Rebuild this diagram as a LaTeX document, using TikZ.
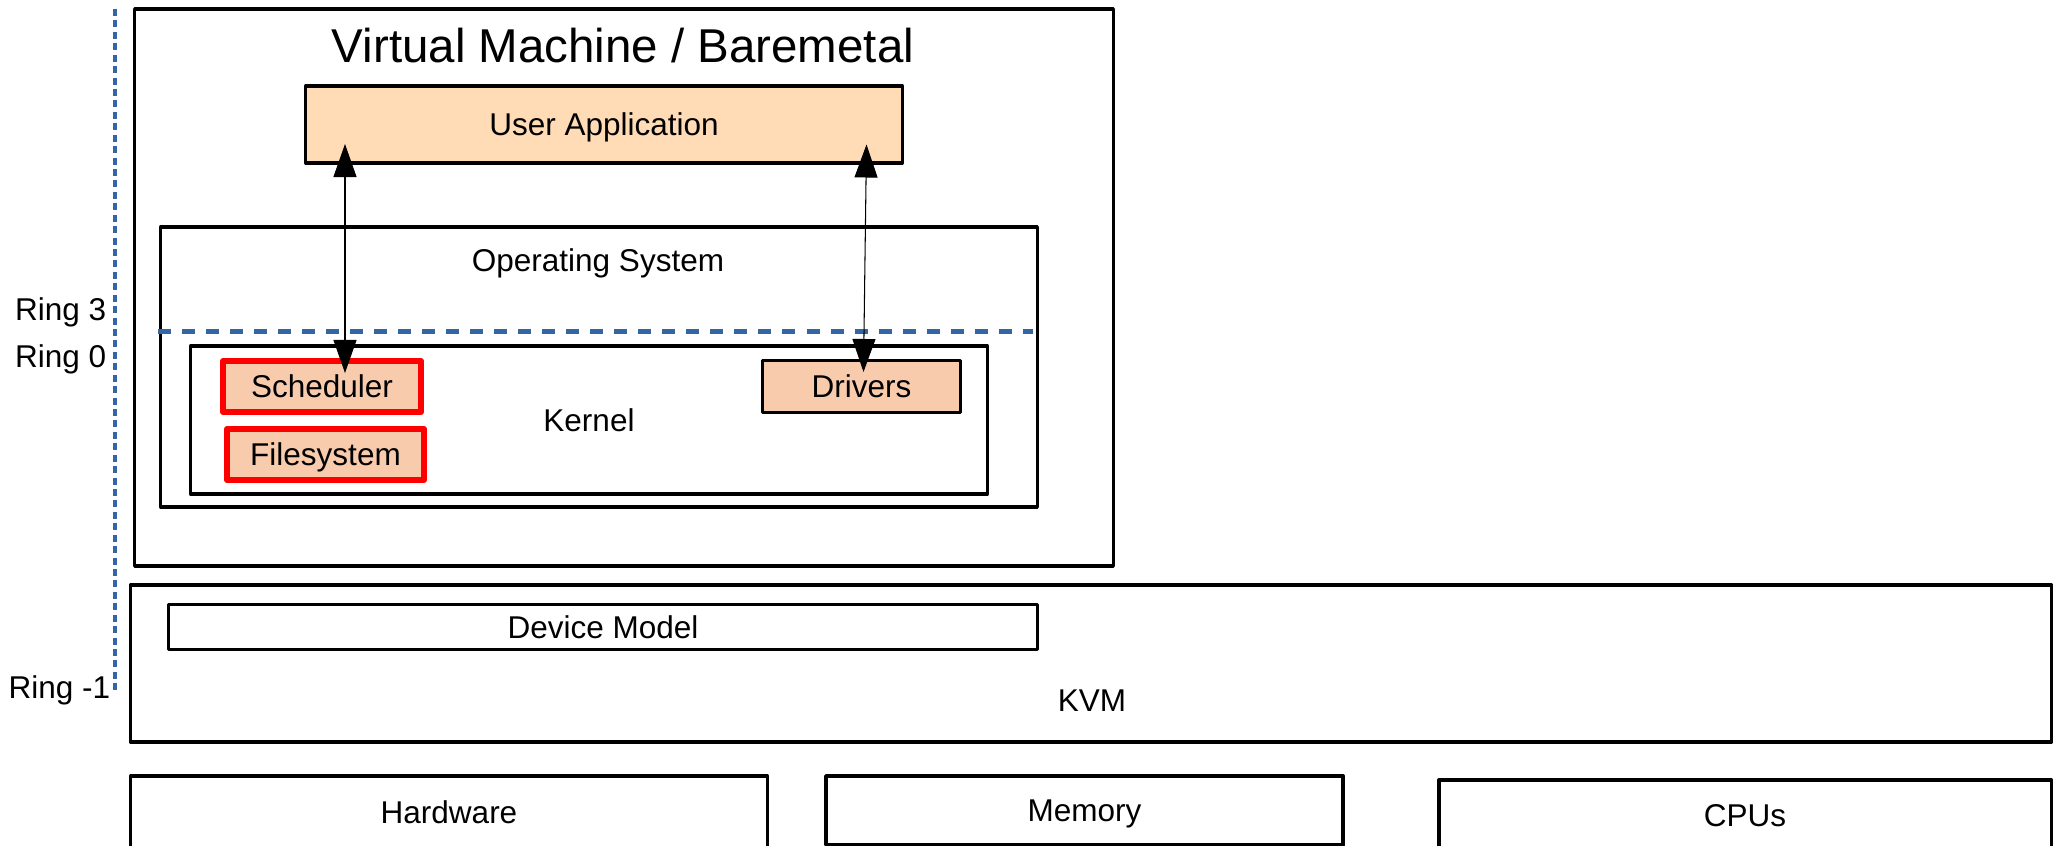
\documentclass[tikz,border=0pt]{standalone}
\usepackage{fontspec}
\setmainfont{Liberation Sans}
\usetikzlibrary{arrows.meta}
\definecolor{ringblue}{HTML}{3465A4}
\definecolor{appfill}{HTML}{FFDBB6}
\definecolor{partfill}{HTML}{F8CBAD}
\definecolor{hotred}{HTML}{FF0000}
\begin{document}
\begin{tikzpicture}[x=0.01cm, y=-0.01cm,
  txt/.style={font=\fontsize{8.96}{10}\selectfont, text height=6.42pt, text depth=0pt, inner sep=0pt},
  frame/.style={draw=black, line width=0.95pt, line join=round, inner sep=0pt, outer sep=0pt, txt},
  part/.style={frame, fill=partfill},
  hot/.style={part, draw=hotred, line width=1.7pt},
  ringline/.style={draw=ringblue, line width=1.42pt, dash pattern=on 3.7pt off 3.13pt},
  ringaxis/.style={draw=ringblue, line width=0.95pt, dash pattern=on 2pt off 1.25pt},
  biarrow/.style={line width=0.3pt, {Triangle[length=0.33cm,width=0.23cm]}-{Triangle[length=0.33cm,width=0.23cm]}},
  ringlbl/.style={txt, anchor=east}]
\clip (0,0) rectangle (2053,846);
\fill[white] (0,0) rectangle (2053,846);

% guest side
\node[frame, minimum width=9.78cm, minimum height=5.57cm] (vm) at (624,287.5) {};
\node[txt, font=\fontsize{13.5}{15}\selectfont, text height=9.67pt] (vmtitle) at (623,45.5) {Virtual Machine / Baremetal};
\node[frame, fill=appfill, minimum width=5.96cm, minimum height=0.77cm] (ua) at (604,124.5) {User Application};
\node[frame, minimum width=8.76cm, minimum height=2.80cm] (os) at (599,367) {};
\node[txt] (oslbl) at (598,260) {Operating System};
\node[frame, minimum width=7.96cm, minimum height=1.48cm] (kernel) at (589,420) {Kernel};
\node[hot, minimum width=1.98cm, minimum height=0.51cm] (sched) at (322,386.5) {Scheduler};
\node[hot, minimum width=1.97cm, minimum height=0.51cm] (fs) at (325.5,454.5) {Filesystem};
\node[part, minimum width=1.98cm, minimum height=0.52cm] (drv) at (861.5,386.5) {Drivers};

% hypervisor and hardware
\node[frame, minimum width=19.20cm, minimum height=1.57cm] (kvm) at (1091,663.5) {};
\node[txt] (kvmlbl) at (1092,700) {KVM};
\node[frame, minimum width=8.68cm, minimum height=0.45cm] (dm) at (603,627) {Device Model};
\node[frame, minimum width=6.36cm, minimum height=0.72cm] (hw) at (449,812) {Hardware};
\node[frame, minimum width=5.17cm, minimum height=0.69cm] (mem) at (1084.5,810.5) {Memory};
\node[frame, minimum width=6.12cm, minimum height=0.71cm] (cpu) at (1745,815.5) {CPUs};

% privilege rings
\draw[ringaxis] (115,9) -- (115,690);
\draw[ringline] (158,332) -- (1033,332);
\node[ringlbl] (r3) at (107,309) {Ring 3};
\node[ringlbl] (r0) at (107,356) {Ring 0};
\node[ringlbl] (rm1) at (111,687) {Ring -1};

% calls between user space and kernel
\coordinate (ua-a) at (345,144);
\coordinate (sched-a) at (345,373);
\coordinate (ua-b) at (866.5,144.5);
\coordinate (drv-a) at (863.5,372);
\draw[biarrow] (ua-a) -- (sched-a);
\draw[biarrow] (ua-b) -- (drv-a);
\end{tikzpicture}
\end{document}
